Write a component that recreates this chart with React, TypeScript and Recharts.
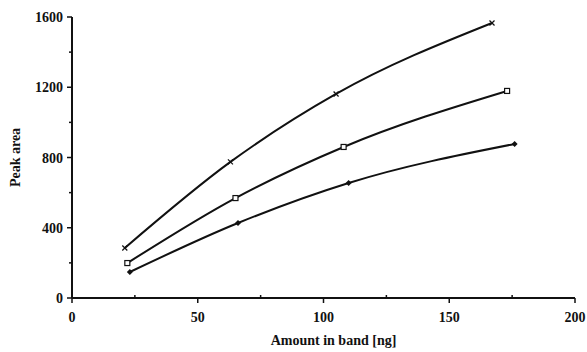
import { LineChart, Line, XAxis, YAxis, Label } from 'recharts'

// each curve was measured at slightly different amounts
const amountsTop = [21, 63, 105, 167]
const areasTop = [285, 775, 1162, 1566]

const amountsMid = [22, 65, 108, 173]
const areasMid = [199, 569, 860, 1179]

const amountsLow = [23, 66, 110, 176]
const areasLow = [148, 427, 655, 877]

const xTicks = [0, 25, 50, 75, 100, 125, 150, 175, 200]
const xLabels = [0, 50, 100, 150, 200]
const yTicks = [0, 200, 400, 600, 800, 1000, 1200, 1400, 1600]
const yLabels = [0, 400, 800, 1200, 1600]

const toRows = (xs: number[], ys: number[]) => xs.map((x, i) => ({ amount: x, area: ys[i] }))

const ink = '#111'
const font = '"Liberation Serif", "DejaVu Serif", serif'

function XTick({ x, y, payload }: any) {
  const major = xLabels.includes(payload.value)
  return (
    <g>
      <line x1={x} y1={y} x2={x} y2={major ? y + 5 : y - 3} stroke={ink} strokeWidth={1.5} />
      {major && (
        <text x={x} y={y + 24} textAnchor="middle" fontSize={14} fontWeight="bold" fontFamily={font} fill={ink}>
          {payload.value}
        </text>
      )}
    </g>
  )
}

function YTick({ x, y, payload }: any) {
  const major = yLabels.includes(payload.value)
  return (
    <g>
      <line x1={x} y1={y} x2={major ? x - 5 : x - 3} y2={y} stroke={ink} strokeWidth={1.5} />
      {major && (
        <text x={x - 9} y={y + 5} textAnchor="end" fontSize={14} fontWeight="bold" fontFamily={font} fill={ink}>
          {payload.value}
        </text>
      )}
    </g>
  )
}

function CrossDot({ cx, cy }: any) {
  return (
    <g stroke={ink} strokeWidth={1.3}>
      <line x1={cx - 2.5} y1={cy - 2.5} x2={cx + 2.5} y2={cy + 2.5} />
      <line x1={cx - 2.5} y1={cy + 2.5} x2={cx + 2.5} y2={cy - 2.5} />
    </g>
  )
}

function SquareDot({ cx, cy }: any) {
  return <rect x={cx - 2.5} y={cy - 2.5} width={5} height={5} fill="#fff" stroke={ink} strokeWidth={1.2} />
}

function DiamondDot({ cx, cy }: any) {
  return <path d={`M${cx},${cy - 3}L${cx + 3},${cy}L${cx},${cy + 3}L${cx - 3},${cy}Z`} fill={ink} />
}

export default function App() {
  return (
    <div style={{ position: 'absolute', left: 0, top: 0, background: '#fff' }}>
      <LineChart width={587} height={352} margin={{ top: 17, right: 12, left: 0, bottom: 0 }}>
        <XAxis
          type="number"
          dataKey="amount"
          domain={[0, 200]}
          ticks={xTicks}
          interval={0}
          height={54}
          tickSize={0}
          tickMargin={0}
          tickLine={false}
          tick={<XTick />}
          axisLine={{ stroke: ink, strokeWidth: 2 }}
          allowDuplicatedCategory={false}
        >
          <Label
            content={({ viewBox }: any) => (
              <text
                x={viewBox.x + viewBox.width / 2 + 10}
                y={viewBox.y + 47}
                textAnchor="middle"
                fontSize={14}
                fontWeight="bold"
                fontFamily={font}
                fill={ink}
              >
                Amount in band [ng]
              </text>
            )}
          />
        </XAxis>
        <YAxis
          type="number"
          dataKey="area"
          domain={[0, 1600]}
          ticks={yTicks}
          interval={0}
          width={72}
          tickSize={0}
          tickMargin={0}
          tickLine={false}
          tick={<YTick />}
          axisLine={{ stroke: ink, strokeWidth: 2 }}
        >
          <Label
            content={({ viewBox }: any) => {
              const cx = viewBox.x + 20
              const cy = viewBox.y + viewBox.height / 2
              return (
                <text
                  x={cx}
                  y={cy}
                  transform={`rotate(-90 ${cx} ${cy})`}
                  textAnchor="middle"
                  fontSize={14}
                  fontWeight="bold"
                  fontFamily={font}
                  fill={ink}
                >
                  Peak area
                </text>
              )
            }}
          />
        </YAxis>
        <Line
          data={toRows(amountsTop, areasTop)}
          dataKey="area"
          type="monotone"
          stroke={ink}
          strokeWidth={2}
          dot={<CrossDot />}
          isAnimationActive={false}
        />
        <Line
          data={toRows(amountsMid, areasMid)}
          dataKey="area"
          type="monotone"
          stroke={ink}
          strokeWidth={2}
          dot={<SquareDot />}
          isAnimationActive={false}
        />
        <Line
          data={toRows(amountsLow, areasLow)}
          dataKey="area"
          type="monotone"
          stroke={ink}
          strokeWidth={2}
          dot={<DiamondDot />}
          isAnimationActive={false}
        />
      </LineChart>
    </div>
  )
}
